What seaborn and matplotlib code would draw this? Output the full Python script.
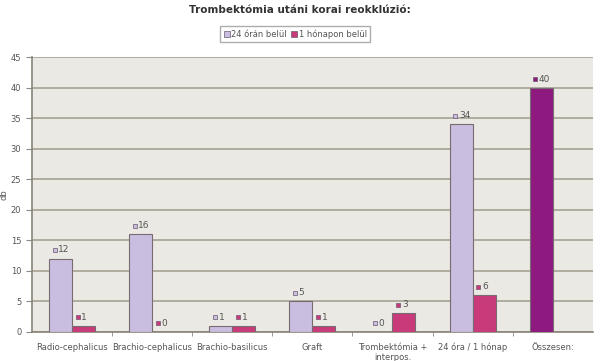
import numpy as np
import pandas as pd
import seaborn as sns
import matplotlib.pyplot as plt
from matplotlib.lines import Line2D

categories = ['Radio-cephalicus', 'Brachio-cephalicus', 'Brachio-basilicus', 'Graft',
              'Trombektómia +\ninterpos.', '24 óra / 1 hónap', 'Összesen:']
series_names = ['24 órán belül', '1 hónapon belül']
within_24h = [12, 16, 1, 5, 0, 34, 40]
within_1m = [1, 0, 1, 1, 3, 6, np.nan]

c_light = '#C9BEDF'
c_pink = '#C83A7A'
c_total = '#8E1A80'

df = pd.DataFrame({
    'cat': categories * 2,
    'series': [series_names[0]] * 7 + [series_names[1]] * 7,
    'value': within_24h + within_1m,
})

sns.set_style('white')
plt.rcParams['font.family'] = ['DejaVu Sans']

fig = plt.figure(figsize=(6, 3.61), dpi=100)
ax = fig.add_axes([0.053, 0.081, 0.935, 0.761])
ax.set_facecolor('#EBE9E4')

sns.barplot(data=df, x='cat', y='value', hue='series', order=categories,
            hue_order=series_names, palette=[c_light, c_pink], width=0.575,
            saturation=1, edgecolor='#7A6A72', linewidth=0.8, legend=False,
            ax=ax, zorder=3)

# the total bar gets its own colour
ax.containers[0][6].set_facecolor(c_total)

for i, cont in enumerate(ax.containers):
    for j, bar in enumerate(cont):
        h = bar.get_height()
        if np.isnan(h):
            continue
        col = [c_light, c_pink][i]
        if i == 0 and j == 6:
            col = c_total
        x = bar.get_x() + bar.get_width() * 0.25
        ax.scatter([x], [h + 1.4], marker='s', s=12, color=col,
                   edgecolor='#6A5A70', linewidth=0.5, zorder=5)
        ax.text(x + 0.045, h + 1.4, f'{int(h)}', fontsize=6.5, color='#555555',
                va='center', ha='left', zorder=5)

ax.set_ylim(0, 45)
ax.set_xlim(-0.5, 6.5)
ax.set_yticks(range(0, 46, 5))
ax.yaxis.grid(True, color='#B0ACA0', linewidth=1.4, zorder=0)
ax.set_axisbelow(True)
ax.set_xticks(np.arange(0.5, 6.5, 1), minor=True)
ax.tick_params(axis='x', which='minor', length=3, color='#888888', direction='out')
ax.tick_params(axis='x', which='major', length=0, labelsize=6, labelcolor='#555555', pad=8)
ax.tick_params(axis='y', length=4, color='#888888', labelsize=6, labelcolor='#555555', direction='out')
ax.yaxis.set_ticks_position('left')
ax.xaxis.set_ticks_position('bottom')
for s in ['top', 'right']:
    ax.spines[s].set_visible(False)
for s in ['left', 'bottom']:
    ax.spines[s].set_color('#8A8478')
    ax.spines[s].set_linewidth(1.2)
ax.set_xlabel('')
ax.set_ylabel('db', fontsize=6, color='#555555')
ax.yaxis.set_label_coords(-0.042, 0.5)

fig.text(0.5, 0.972, 'Trombektómia utáni korai reokklúzió:', ha='center', va='center',
         fontsize=7.5, fontweight='bold', color='#333333')

handles = [Line2D([], [], marker='s', linestyle='', markersize=4, markerfacecolor=c,
                  markeredgecolor='#6A5A70', markeredgewidth=0.5) for c in [c_light, c_pink]]
fig.legend(handles, series_names, loc='center', bbox_to_anchor=(0.492, 0.905), ncol=2,
           fontsize=6, frameon=True, fancybox=False, edgecolor='#999999',
           handletextpad=0.1, columnspacing=0.5, borderpad=0.4, handlelength=0.8,
           labelcolor='#555555')

fig.savefig('out.png', dpi=100)
